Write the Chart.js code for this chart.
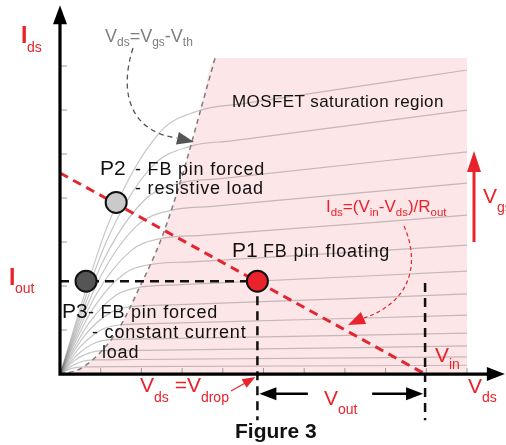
<!DOCTYPE html>
<html>
<head>
<meta charset="utf-8">
<script src="https://cdn.jsdelivr.net/npm/chart.js@4.4.0/dist/chart.umd.min.js"></script>
<style>
  html, body { margin: 0; padding: 0; background: #fff; }
  #wrap { width: 506px; height: 445px; }
</style>
</head>
<body>
<div id="wrap"><canvas id="fig"></canvas></div>
<script>
// saturation boundary Vds = Vgs - Vth
const boundary = [[0, 0], [0.5, 0.12], [1.1, 0.6], [1.5, 1.12], [1.92, 1.9], [2.5, 3.1], [3.0, 4.5], [3.44, 5.95], [3.81, 7.18]];
const satTop = 7.18;
const satRight = 10;

// MOSFET output curves, one per Vgs step
const curves = [
    [[0, 0], [1.21, 3.47], [2.42, 5.46], [3.46, 6.00], [4.46, 6.14], [10, 6.91]],
    [[0, 0], [1.13, 2.99], [2.25, 4.71], [3.22, 5.18], [4.22, 5.30], [10, 6.00]],
    [[0, 0], [1.03, 2.51], [2.07, 3.95], [2.95, 4.34], [3.95, 4.44], [10, 5.05]],
    [[0, 0], [0.96, 2.15], [1.91, 3.39], [2.73, 3.72], [3.73, 3.81], [10, 4.34]],
    [[0, 0], [0.87, 1.78], [1.74, 2.80], [2.48, 3.08], [3.48, 3.15], [10, 3.61]],
    [[0, 0], [0.78, 1.44], [1.56, 2.27], [2.23, 2.49], [3.23, 2.55], [10, 2.93]],
    [[0, 0], [0.70, 1.14], [1.39, 1.80], [1.99, 1.98], [2.99, 2.03], [10, 2.34]],
    [[0, 0], [0.61, 0.88], [1.23, 1.39], [1.75, 1.53], [2.75, 1.57], [10, 1.82]],
    [[0, 0], [0.53, 0.65], [1.05, 1.02], [1.50, 1.12], [2.50, 1.15], [10, 1.34]],
    [[0, 0], [0.44, 0.45], [0.87, 0.71], [1.25, 0.78], [2.25, 0.80], [10, 0.93]],
    [[0, 0], [0.36, 0.31], [0.72, 0.48], [1.03, 0.53], [2.03, 0.54], [10, 0.64]],
    [[0, 0], [0.28, 0.18], [0.56, 0.29], [0.80, 0.32], [1.80, 0.33], [10, 0.39]],
    [[0, 0], [0.20, 0.10], [0.40, 0.15], [0.57, 0.165], [1.57, 0.17], [10, 0.20]]
];

// load line and operating points
const vin = 8.97;
const loadAtZero = 4.57;
const iout = 2.11;
const p1 = [4.85, 2.11];
const p2 = [1.38, 3.90];
const p3 = [0.64, 2.11];
const guideBottom = -1.05;
const voutLevel = -0.45;
const voutGap = [6.09, 7.67];

const xTicks = [1, 2, 3, 4, 5, 6, 7, 8, 9, 10];
const yTicks = [1, 2, 3, 4, 5, 6, 7];
const yArrowTop = 8.38;
const xArrowEnd = 10.93;

const RED = '#e8232b';
const FONT = '"Liberation Sans", Arial, Helvetica, sans-serif';

const xy = pts => pts.map(p => ({x: p[0], y: p[1]}));

const datasets = [];

datasets.push({
    data: xy(boundary.concat([[satRight, satTop]])),
    showLine: true, fill: 'origin', backgroundColor: 'rgb(253,230,232)',
    borderWidth: 0, pointRadius: 0, cubicInterpolationMode: 'monotone', order: 100
});

curves.forEach(c => datasets.push({
    data: xy(c), showLine: true, fill: false,
    borderColor: 'rgba(105,105,105,0.38)', borderWidth: 1.2,
    pointRadius: 0, cubicInterpolationMode: 'monotone', order: 90
}));

datasets.push({
    data: xy(boundary), showLine: true, fill: false,
    borderColor: '#7e7e7e', borderWidth: 1.5, borderDash: [5, 4],
    pointRadius: 0, cubicInterpolationMode: 'monotone', order: 80
});

datasets.push({
    data: xy([[0, loadAtZero], [vin, 0]]), showLine: true, fill: false,
    borderColor: '#e2262f', borderWidth: 3, borderDash: [9, 6], pointRadius: 0, order: 50
});

const guides = [
    [[0, iout], [p1[0], iout]],
    [[p1[0], iout], [p1[0], guideBottom]],
    [[vin, 2.07], [vin, guideBottom]]
];
guides.forEach(g => datasets.push({
    data: xy(g), showLine: true, fill: false,
    borderColor: '#111', borderWidth: 2.5, borderDash: [9, 6], pointRadius: 0, order: 40
}));

[[p1, RED], [p2, '#cacaca'], [p3, '#555555']].forEach(([p, c]) => datasets.push({
    data: xy([p]), showLine: false, pointRadius: 10.5, pointHoverRadius: 10.5,
    pointBackgroundColor: c, pointBorderColor: '#111', pointBorderWidth: 2, order: 0
}));

function arrowHead(ctx, tx, ty, fx, fy, len, half, color) {
    const a = Math.atan2(ty - fy, tx - fx);
    const bx = tx - len * Math.cos(a), by = ty - len * Math.sin(a);
    ctx.beginPath();
    ctx.moveTo(tx, ty);
    ctx.lineTo(bx + half * Math.sin(a), by - half * Math.cos(a));
    ctx.lineTo(bx - half * Math.sin(a), by + half * Math.cos(a));
    ctx.closePath();
    ctx.fillStyle = color;
    ctx.fill();
}

// text with subscripts: parts = [text, isSub]
function rich(ctx, x, y, parts, size, subSize, drop, color, weight) {
    ctx.fillStyle = color;
    ctx.letterSpacing = '0px';
    parts.forEach(([t, sub]) => {
        ctx.font = (sub ? '' : (weight || '')) + ' ' + (sub ? subSize : size) + 'px ' + FONT;
        ctx.fillText(t, x, y + (sub ? drop : 0));
        x += ctx.measureText(t).width;
    });
}

function label(ctx, t, x, y, size, spacing, weight) {
    ctx.font = (weight || 'normal') + ' ' + size + 'px ' + FONT;
    ctx.letterSpacing = spacing + 'px';
    ctx.fillStyle = '#111';
    ctx.fillText(t, x, y);
}

const decor = {
    id: 'decor',
    afterDatasetsDraw(chart) {
        const ctx = chart.ctx;
        const sx = chart.scales.x, sy = chart.scales.y;
        const X = v => sx.getPixelForValue(v), Y = v => sy.getPixelForValue(v);
        const x0 = X(0), y0 = Y(0);
        ctx.save();

        // ticks
        ctx.strokeStyle = '#9a9a9a';
        ctx.lineWidth = 1;
        xTicks.forEach(t => { ctx.beginPath(); ctx.moveTo(X(t), y0); ctx.lineTo(X(t), y0 - 6); ctx.stroke(); });
        yTicks.forEach(t => { ctx.beginPath(); ctx.moveTo(x0, Y(t)); ctx.lineTo(x0 + 7, Y(t)); ctx.stroke(); });

        // axes
        ctx.strokeStyle = '#000';
        ctx.lineWidth = 3.2;
        ctx.beginPath();
        ctx.moveTo(x0, y0 + 1.6); ctx.lineTo(x0, Y(yArrowTop) + 16);
        ctx.moveTo(x0 - 1.6, y0); ctx.lineTo(X(xArrowEnd) - 16, y0);
        ctx.stroke();
        arrowHead(ctx, x0, Y(yArrowTop), x0, y0, 19, 7, '#000');
        arrowHead(ctx, X(xArrowEnd), y0, x0, y0, 18, 7, '#000');

        // Vout arrows
        const yv = Y(voutLevel);
        ctx.lineWidth = 2.5;
        ctx.beginPath();
        ctx.moveTo(X(p1[0]) + 12, yv); ctx.lineTo(X(voutGap[0]), yv);
        ctx.moveTo(X(voutGap[1]), yv); ctx.lineTo(X(vin) - 12, yv);
        ctx.stroke();
        arrowHead(ctx, X(p1[0]) + 2, yv, X(voutGap[0]), yv, 17, 6.5, '#000');
        arrowHead(ctx, X(vin) - 2, yv, X(voutGap[1]), yv, 17, 6.5, '#000');

        // Vgs arrow
        ctx.strokeStyle = RED;
        ctx.lineWidth = 3;
        ctx.beginPath(); ctx.moveTo(474, 242); ctx.lineTo(474, 168); ctx.stroke();
        arrowHead(ctx, 474, 151, 474, 242, 21, 7, RED);

        // Vdrop pointer
        ctx.lineWidth = 1.2;
        ctx.beginPath(); ctx.moveTo(231, 391); ctx.lineTo(247, 382); ctx.stroke();
        arrowHead(ctx, X(p1[0]) - 2, 377, 231, 391, 13, 5, RED);

        // curved dashed arrow for the load line formula
        ctx.setLineDash([4, 3]);
        ctx.beginPath();
        ctx.moveTo(404, 226);
        ctx.bezierCurveTo(420, 262, 412, 302, 364, 318);
        ctx.stroke();
        arrowHead(ctx, 348, 325, 368, 316, 17, 6.5, RED);

        // curved dashed arrow for the boundary formula
        ctx.strokeStyle = '#555';
        ctx.lineWidth = 1.3;
        ctx.setLineDash([5, 4]);
        ctx.beginPath();
        ctx.moveTo(133, 48);
        ctx.bezierCurveTo(118, 95, 132, 132, 177, 138);
        ctx.stroke();
        ctx.setLineDash([]);
        arrowHead(ctx, 194, 142, 172, 137, 17, 6.5, '#555');

        // red labels
        rich(ctx, 21, 43, [['I', 0]], 23, 14, 0, RED, 'bold');
        rich(ctx, 27, 52, [['ds', 1]], 23, 14, 0, RED);
        rich(ctx, 9, 285, [['I', 0]], 23, 14, 0, RED, 'bold');
        rich(ctx, 15, 293, [['out', 1]], 23, 14, 0, RED);
        rich(ctx, 140, 392, [['V', 0], ['ds', 1], [' =V', 0], ['drop', 1]], 21, 14, 10, RED);
        rich(ctx, 324, 405, [['V', 0], ['out', 1]], 21, 14, 9, RED);
        rich(ctx, 435, 362, [['V', 0], ['in', 1]], 21, 14, 7, RED);
        rich(ctx, 468, 393, [['V', 0], ['ds', 1]], 21, 14, 9, RED);
        rich(ctx, 483, 203, [['V', 0], ['gs', 1]], 21, 14, 9, RED);
        rich(ctx, 326, 212, [['I', 0], ['ds', 1], ['=(V', 0], ['in', 1], ['-V', 0], ['ds', 1], [')/R', 0], ['out', 1]], 17, 11.5, 4, RED);

        // grey formula
        rich(ctx, 105, 42, [['V', 0], ['ds', 1], ['=V', 0], ['gs', 1], ['-V', 0], ['th', 1]], 18, 12, 4, '#7e7e7e');

        // black labels
        label(ctx, 'MOSFET saturation region', 232, 107, 17, 0.4);
        label(ctx, 'P2', 100, 175, 21, 0);
        label(ctx, '- FB pin forced', 135, 175, 18, 0.8);
        label(ctx, '- resistive load', 135, 194, 18, 0.8);
        label(ctx, 'P1', 232, 257, 21, 0);
        label(ctx, 'FB pin floating', 263, 257, 18, 0.8);
        label(ctx, 'P3', 62, 318, 21, 0);
        label(ctx, '- FB pin forced', 88, 318, 18, 0.8);
        label(ctx, '- constant current', 92, 338, 18, 0.8);
        label(ctx, 'load', 102, 358, 18, 0.8);
        label(ctx, 'Figure 3', 235, 438, 21, 0, 'bold');

        ctx.restore();
    }
};

new Chart(document.getElementById('fig'), {
    type: 'scatter',
    data: {datasets: datasets},
    options: {
        responsive: true,
        maintainAspectRatio: false,
        devicePixelRatio: 1,
        animation: false,
        layout: {autoPadding: false, padding: {top: 4, bottom: 1, left: 0, right: 0}},
        plugins: {legend: {display: false}, tooltip: {enabled: false}},
        events: [],
        scales: {
            x: {type: 'linear', min: -1.474, max: 10.958, display: false},
            y: {type: 'linear', min: -1.59, max: 8.41, display: false}
        }
    },
    plugins: [decor]
});
</script>
</body>
</html>
